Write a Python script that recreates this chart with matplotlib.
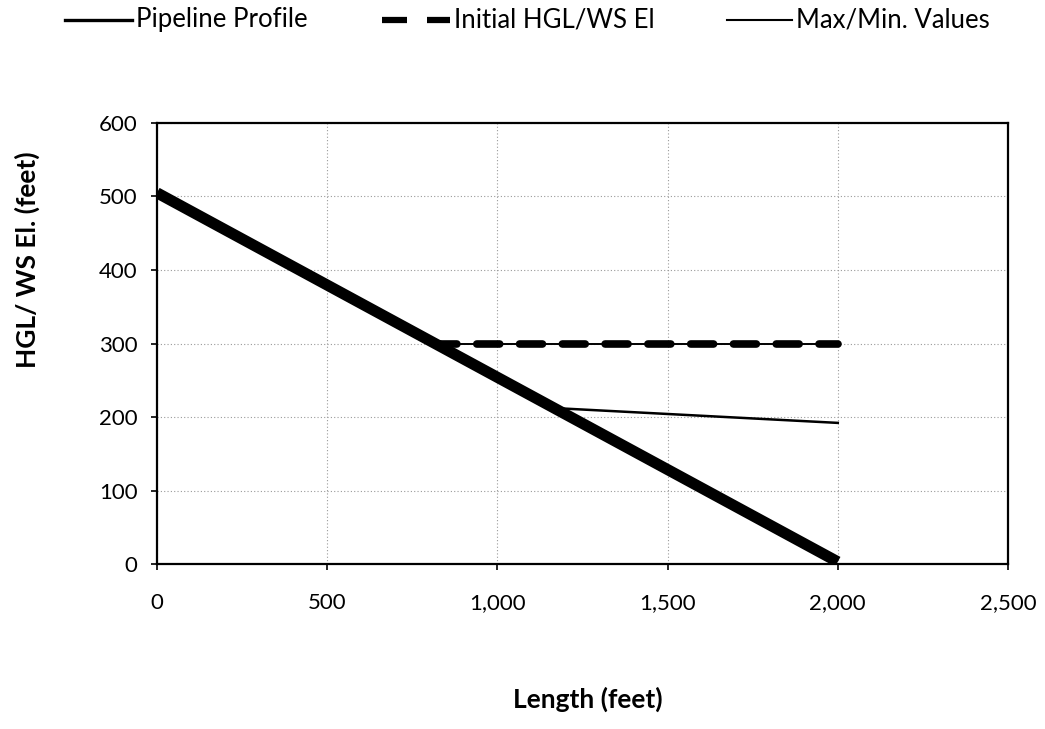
import matplotlib
matplotlib.use("Agg")
import matplotlib.pyplot as plt
from matplotlib.lines import Line2D
from matplotlib.ticker import FuncFormatter, MultipleLocator

# Series data (length in feet, elevation in feet)
profile_x = [0, 2000]
profile_y = [505, 3]

hgl_x = [815, 2000]
hgl_y = [300, 300]

max_x = [815, 2000]
max_y = [300, 300]
min_x = [1175, 2000]
min_y = [212, 192]

labels = ["Pipeline Profile", "Initial HGL/WS El", "Max/Min. Values"]

plt.rcParams["font.family"] = ["Lato", "DejaVu Sans"]

fig = plt.figure(figsize=(10.45, 7.29), dpi=100)
ax = fig.add_axes([0.1502, 0.2263, 0.8144, 0.605])

ax.set_xlim(0, 2500)
ax.set_ylim(0, 600)
ax.xaxis.set_major_locator(MultipleLocator(500))
ax.yaxis.set_major_locator(MultipleLocator(100))
ax.xaxis.set_major_formatter(FuncFormatter(lambda v, p: f"{int(v):,}"))

ax.grid(True, color="#9a9a9a", linestyle=(0, (1, 2)), linewidth=0.8)
ax.set_axisbelow(True)

for s in ax.spines.values():
    s.set_linewidth(1.6)
    s.set_color("black")

ax.tick_params(axis="both", direction="out", length=4, width=1.2,
               labelsize=16, colors="black")
ax.tick_params(axis="y", pad=10)
ax.tick_params(axis="x", pad=17)

ax.plot(max_x, max_y, color="black", linewidth=1.4, zorder=3)
ax.plot(min_x, min_y, color="black", linewidth=1.8, zorder=3)
ax.plot(hgl_x, hgl_y, color="black", linewidth=5.5,
        dashes=(3.0, 2.6), dash_capstyle="round", zorder=4)
ax.plot(profile_x, profile_y, color="black", linewidth=8, zorder=5,
        solid_capstyle="butt")

ax.set_ylabel("HGL/ WS El. (feet)", fontsize=19, fontweight="bold")
ax.yaxis.set_label_coords(-0.138, 0.689)
ax.set_xlabel("Length (feet)", fontsize=19, fontweight="bold")
ax.xaxis.set_label_coords(0.506, -0.279)

# Legend row across the top of the figure
W, H = 1045.0, 729.0
ly = 1 - 20 / H
entries = [
    (65, 132, dict(linewidth=2.4), labels[0]),
    (382, 450, dict(linewidth=4.5, dashes=(4.0, 3.2), dash_capstyle="butt"), labels[1]),
    (727, 792, dict(linewidth=1.5), labels[2]),
]
for x0, x1, style, text in entries:
    fig.add_artist(Line2D([x0 / W, x1 / W], [ly, ly], transform=fig.transFigure,
                          color="black", **style))
    fig.text((x1 + 4) / W, ly, text, fontsize=18.5, va="center", ha="left")

fig.savefig("out.png", dpi=100, facecolor="white")
